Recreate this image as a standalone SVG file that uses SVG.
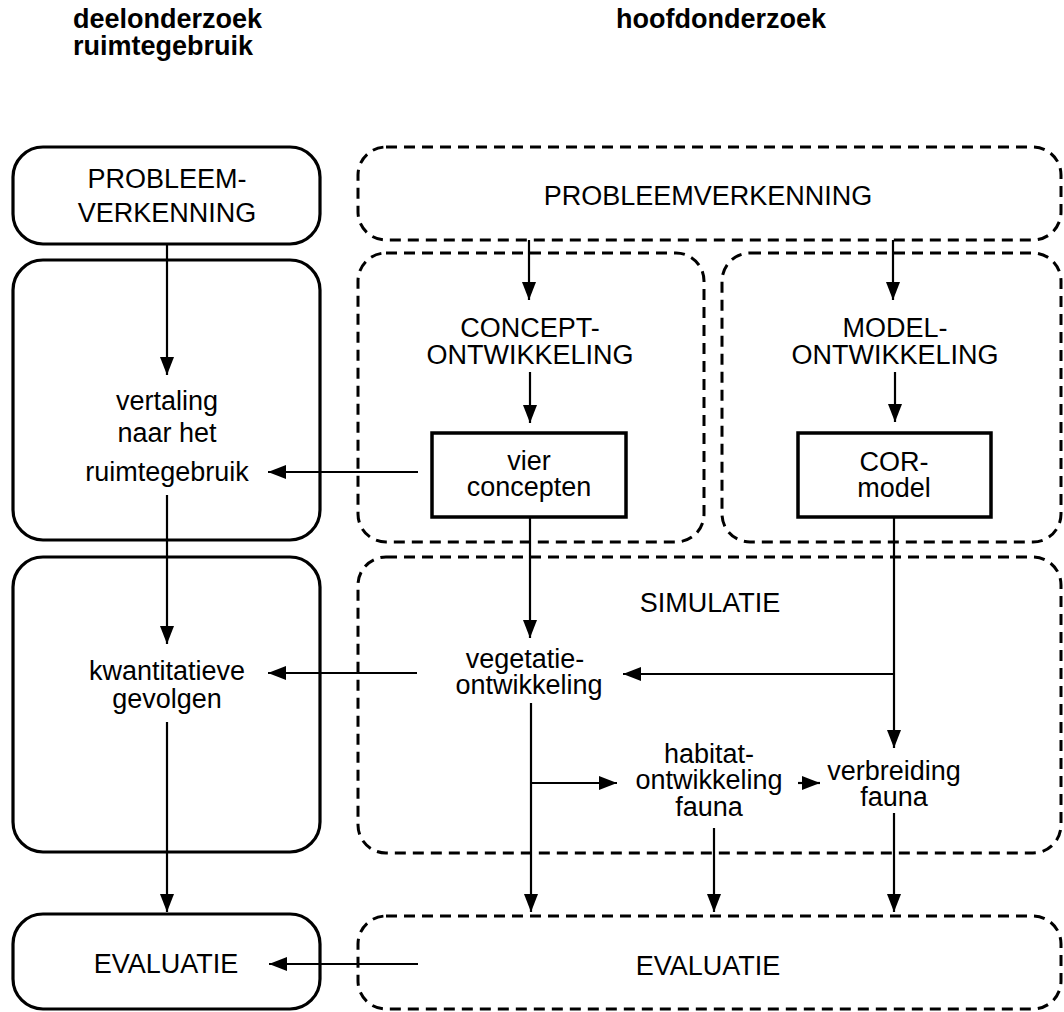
<svg xmlns="http://www.w3.org/2000/svg" width="1064" height="1012" viewBox="0 0 1064 1012">
<defs>
<marker id="ah" markerUnits="userSpaceOnUse" viewBox="0 0 18 14" refX="18" refY="7" markerWidth="18" markerHeight="14" orient="auto">
<path d="M0,0 L18,7 L0,14 Z" fill="#000"/>
</marker>
</defs>
<style>
text{font-family:"Liberation Sans",Arial,sans-serif;font-size:27px;fill:#000;text-anchor:middle}
.hdr{font-weight:bold;text-anchor:start}
.solid{fill:none;stroke:#000;stroke-width:3.2}
.dash{fill:none;stroke:#000;stroke-width:3;stroke-dasharray:11 7}
.rect{fill:none;stroke:#000;stroke-width:3.5}
.conn line{stroke:#000;stroke-width:2.2}
.arr{marker-end:url(#ah)}
</style>
<rect width="1064" height="1012" fill="#fff"/>
<g id="headers">
<text class="hdr" x="73" y="28">deelonderzoek</text>
<text class="hdr" x="73" y="55">ruimtegebruik</text>
<text class="hdr" x="616" y="28">hoofdonderzoek</text>
</g>
<g id="l-probleem">
<rect class="solid" x="13" y="147" width="307" height="97" rx="30"/>
<text x="167" y="188">PROBLEEM-</text>
<text x="167" y="222">VERKENNING</text>
</g>
<g id="l-vertaling">
<rect class="solid" x="13" y="260" width="307" height="280" rx="30"/>
<text x="167" y="410">vertaling</text>
<text x="167" y="442">naar het</text>
<text x="167" y="481">ruimtegebruik</text>
</g>
<g id="l-kwantitatief">
<rect class="solid" x="13" y="557" width="307" height="295" rx="30"/>
<text x="167" y="680">kwantitatieve</text>
<text x="167" y="708">gevolgen</text>
</g>
<g id="l-evaluatie">
<rect class="solid" x="13" y="914" width="307" height="95" rx="30"/>
<text x="166" y="973">EVALUATIE</text>
</g>
<g id="h-probleem">
<rect class="dash" x="358" y="147" width="703" height="93" rx="28"/>
<text x="708" y="205">PROBLEEMVERKENNING</text>
</g>
<g id="h-concept">
<rect class="dash" x="358" y="253" width="346" height="289" rx="28"/>
<text x="530" y="337">CONCEPT-</text>
<text x="530" y="364">ONTWIKKELING</text>
</g>
<g id="h-model">
<rect class="dash" x="722" y="253" width="339" height="289" rx="28"/>
<text x="895" y="337">MODEL-</text>
<text x="895" y="364">ONTWIKKELING</text>
</g>
<g id="vier-concepten">
<rect class="rect" x="432" y="433" width="194" height="84"/>
<text x="529" y="470">vier</text>
<text x="529" y="496">concepten</text>
</g>
<g id="cor-model">
<rect class="rect" x="798" y="433" width="193" height="84"/>
<text x="894" y="471">COR-</text>
<text x="894" y="497">model</text>
</g>
<g id="h-simulatie">
<rect class="dash" x="358" y="557" width="703" height="296" rx="28"/>
<text x="710" y="612">SIMULATIE</text>
</g>
<g id="vegetatie">
<text x="525" y="668">vegetatie-</text>
<text x="529" y="694">ontwikkeling</text>
</g>
<g id="habitat">
<text x="709" y="763">habitat-</text>
<text x="709" y="789">ontwikkeling</text>
<text x="709" y="816">fauna</text>
</g>
<g id="verbreiding">
<text x="894" y="780">verbreiding</text>
<text x="894" y="806">fauna</text>
</g>
<g id="h-evaluatie">
<rect class="dash" x="358" y="916" width="703" height="93" rx="28"/>
<text x="708" y="975">EVALUATIE</text>
</g>
<g id="connectors" class="conn">
<line class="arr" x1="167" y1="244" x2="167" y2="375"/>
<line class="arr" x1="167" y1="495" x2="167" y2="644"/>
<line class="arr" x1="167" y1="722" x2="167" y2="912"/>
<line class="arr" x1="529" y1="240" x2="529" y2="300"/>
<line class="arr" x1="530" y1="372" x2="530" y2="423"/>
<line class="arr" x1="893" y1="240" x2="893" y2="300"/>
<line class="arr" x1="895" y1="372" x2="895" y2="422"/>
<line class="arr" x1="418" y1="472" x2="268" y2="472"/>
<line class="arr" x1="530" y1="517" x2="530" y2="638"/>
<line class="arr" x1="894" y1="517" x2="894" y2="748"/>
<line class="arr" x1="895" y1="674" x2="623" y2="674"/>
<line class="arr" x1="417" y1="673" x2="268" y2="673"/>
<line class="arr" x1="531" y1="703" x2="531" y2="912"/>
<line class="arr" x1="531" y1="783" x2="617" y2="783"/>
<line class="arr" x1="798" y1="783" x2="820" y2="783"/>
<line class="arr" x1="714" y1="828" x2="714" y2="912"/>
<line class="arr" x1="894" y1="813" x2="894" y2="912"/>
<line class="arr" x1="418" y1="964" x2="269" y2="964"/>
</g>
</svg>
